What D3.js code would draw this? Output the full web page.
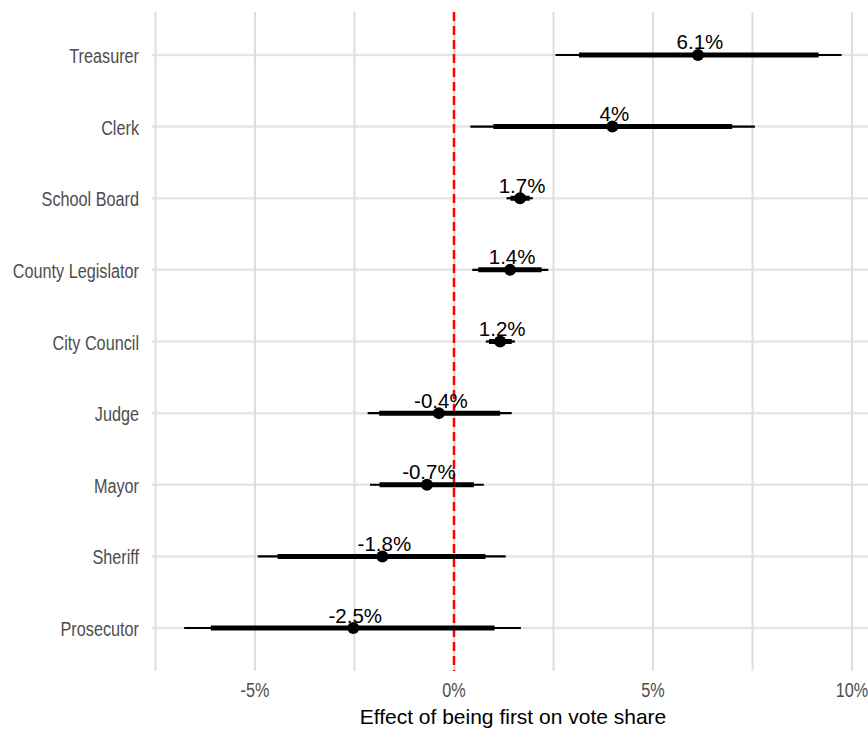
<!DOCTYPE html>
<html>
<head>
<meta charset="utf-8">
<script src="https://cdn.jsdelivr.net/npm/d3@7"></script>
<style>
  html, body { margin: 0; padding: 0; background: #fff; }
  svg { display: block; }
  .tick-label { font-family: "Liberation Sans", Arial, sans-serif; fill: #4d4d4d; font-size: 19.8px; }
  .value-label { font-family: "Liberation Sans", Arial, sans-serif; fill: #000; font-size: 20.5px; }
  .axis-title { font-family: "Liberation Sans", Arial, sans-serif; fill: #000; font-size: 21px; }
</style>
</head>
<body>
<div id="chart"></div>
<script>
// Offices, top to bottom
const offices = ['Treasurer', 'Clerk', 'School Board', 'County Legislator', 'City Council',
                 'Judge', 'Mayor', 'Sheriff', 'Prosecutor'];
// Point estimate (percentage points)
const estimates = [6.13, 3.98, 1.66, 1.41, 1.16, -0.38, -0.68, -1.80, -2.53];
const estimateLabels = ['6.1%', '4%', '1.7%', '1.4%', '1.2%', '-0.4%', '-0.7%', '-1.8%', '-2.5%'];
// Outer (thin) interval
const outerLow = [2.55, 0.41, 1.32, 0.46, 0.80, -2.17, -2.11, -4.93, -6.78];
const outerHigh = [9.74, 7.56, 1.98, 2.37, 1.53, 1.45, 0.75, 1.30, 1.68];
// Inner (thick) interval
const innerLow = [3.14, 0.99, 1.42, 0.61, 0.88, -1.88, -1.87, -4.43, -6.11];
const innerHigh = [9.16, 6.99, 1.90, 2.20, 1.45, 1.16, 0.50, 0.79, 1.02];
// x axis
const gridValues = [-7.5, -5, -2.5, 0, 2.5, 5, 7.5, 10];
const tickValues = [-5, 0, 5, 10];

const width = 868, height = 729;
const panel = { left: 151.5, right: 875.9, top: 12, bottom: 671 };
const narrow = 0.82; // axis text is set in a condensed face

const svg = d3.select('#chart').append('svg')
  .attr('width', width)
  .attr('height', height);

const x = d3.scaleLinear()
  .domain([-7.6, 10.6])
  .range([panel.left, panel.right]);

const y = d3.scalePoint()
  .domain(offices)
  .range([panel.top, panel.bottom])
  .padding(0.6);

const rows = offices.map((name, i) => ({
  name,
  est: estimates[i],
  label: estimateLabels[i],
  lo: outerLow[i], hi: outerHigh[i],
  lo2: innerLow[i], hi2: innerHigh[i],
}));

// Grid
const grid = svg.append('g').attr('class', 'grid');
grid.selectAll('line.h')
  .data(offices)
  .join('line')
  .attr('class', 'h')
  .attr('x1', panel.left).attr('x2', width)
  .attr('y1', d => y(d)).attr('y2', d => y(d))
  .attr('stroke', '#e6e6e6')
  .attr('stroke-width', 2.5);

grid.selectAll('line.v')
  .data(gridValues)
  .join('line')
  .attr('class', 'v')
  .attr('x1', d => x(d)).attr('x2', d => x(d))
  .attr('y1', panel.top).attr('y2', panel.bottom)
  .attr('stroke', '#dedede')
  .attr('stroke-width', 2);

// Zero reference
svg.append('line')
  .attr('x1', x(0)).attr('x2', x(0))
  .attr('y1', panel.top).attr('y2', panel.bottom)
  .attr('stroke', '#ff0000')
  .attr('stroke-width', 2.5)
  .attr('stroke-dasharray', '9,5');

// Intervals and points
const marks = svg.append('g').attr('class', 'marks');
marks.selectAll('line.outer')
  .data(rows)
  .join('line')
  .attr('class', 'outer')
  .attr('x1', d => x(d.lo)).attr('x2', d => x(d.hi))
  .attr('y1', d => y(d.name)).attr('y2', d => y(d.name))
  .attr('stroke', '#000')
  .attr('stroke-width', 2.2);

marks.selectAll('line.inner')
  .data(rows)
  .join('line')
  .attr('class', 'inner')
  .attr('x1', d => x(d.lo2)).attr('x2', d => x(d.hi2))
  .attr('y1', d => y(d.name)).attr('y2', d => y(d.name))
  .attr('stroke', '#000')
  .attr('stroke-width', 5);

marks.selectAll('circle')
  .data(rows)
  .join('circle')
  .attr('cx', d => x(d.est))
  .attr('cy', d => y(d.name))
  .attr('r', 6)
  .attr('fill', '#000');

marks.selectAll('text')
  .data(rows)
  .join('text')
  .attr('class', 'value-label')
  .attr('x', d => x(d.est) + 2)
  .attr('y', d => y(d.name) - 5.5)
  .attr('text-anchor', 'middle')
  .text(d => d.label);

// Axes text (condensed by scaling horizontally)
svg.append('g').selectAll('text')
  .data(offices)
  .join('text')
  .attr('class', 'tick-label')
  .attr('transform', d => `translate(139,${y(d) + 8}) scale(${narrow},1)`)
  .attr('text-anchor', 'end')
  .text(d => d);

svg.append('g').selectAll('text')
  .data(tickValues)
  .join('text')
  .attr('class', 'tick-label')
  .attr('transform', d => `translate(${x(d)},697) scale(${narrow},1)`)
  .attr('text-anchor', 'middle')
  .text(d => d + '%');

svg.append('text')
  .attr('class', 'axis-title')
  .attr('x', x(0) + 59)
  .attr('y', 724)
  .attr('text-anchor', 'middle')
  .text('Effect of being first on vote share');
</script>
</body>
</html>
